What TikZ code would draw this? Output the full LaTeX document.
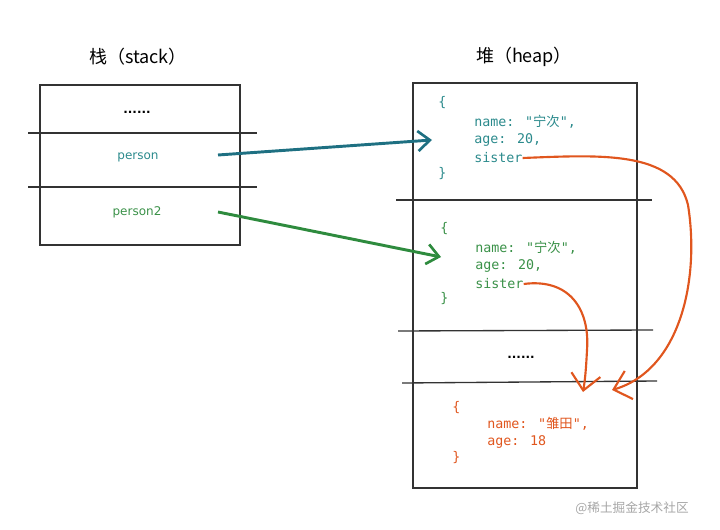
\documentclass[tikz,border=0pt]{standalone}
\usepackage{fontspec}
\setmainfont{DejaVu Sans}
\newfontfamily\cjk{Noto Sans CJK SC}
\newfontfamily\codefont{DejaVu Sans Mono}
\usetikzlibrary{arrows.meta}
\definecolor{tealc}{HTML}{1E7082}
\definecolor{tealt}{HTML}{2B8A8C}
\definecolor{greenc}{HTML}{2E8B3E}
\definecolor{greent}{HTML}{3A9148}
\definecolor{orangec}{HTML}{E0561E}
\definecolor{linec}{HTML}{333333}
\begin{document}
\begin{tikzpicture}[x=0.75pt,y=-0.75pt,
  boxline/.style={draw=linec,line width=1pt},
  code/.style={font=\codefont\fontsize{10}{12}\selectfont,anchor=west,inner sep=0pt},
  hand/.style={font=\fontsize{9}{11}\selectfont,inner sep=0pt},
  dots/.style={font=\bfseries\fontsize{9}{11}\selectfont,inner sep=0pt},
  title/.style={font=\cjk\fontsize{13.5}{15}\selectfont,inner sep=0pt},
  ptr/.style={line width=2.2pt,-{Straight Barb[length=9pt,width=15pt,line width=2pt]}},
  oarrow/.style={line width=1.6pt,draw=orangec,-{Straight Barb[length=12pt,width=22pt,line width=1.6pt]}}]
\useasboundingbox (0,0) rectangle (720,530);
% titles
\node[title] (tstack) at (138,57) {栈（stack）};
\node[title] (theap) at (524,57) {堆（heap）};
% stack box
\draw[boxline] (40,85) rectangle (240,245);
\draw[boxline] (28,133) -- (257,133);
\draw[boxline] (28,187) -- (257,187);
\node[dots] (sdots) at (137,112) {......};
\node[hand,text=tealt] (person) at (138,157) {person};
\node[hand,text=greent] (person2) at (137,212) {person2};
% heap box
\draw[boxline] (413,83) rectangle (637,488);
\draw[boxline] (396,200) -- (652,200);
\draw[boxline] (398,331) -- (653,330);
\draw[boxline] (402,383) -- (657,381);
% object 1
\node[code,text=tealt] (o1a) at (438,103) {\{};
\node[code,text=tealt] (o1b) at (474,122) {name: "{\cjk 宁次}",};
\node[code,text=tealt] (o1c) at (474,140) {age: 20,};
\node[code,text=tealt] (o1d) at (474,158) {sister};
\node[code,text=tealt] (o1e) at (438,174) {\}};
% object 2
\node[code,text=greent] (o2a) at (440,229) {\{};
\node[code,text=greent] (o2b) at (475,248) {name: "{\cjk 宁次}",};
\node[code,text=greent] (o2c) at (475,266) {age: 20,};
\node[code,text=greent] (o2d) at (475,284) {sister};
\node[code,text=greent] (o2e) at (440,299) {\}};
% dots
\node[dots] (hdots) at (521,357) {......};
% object 3
\node[code,text=orangec] (o3a) at (452,408) {\{};
\node[code,text=orangec] (o3b) at (487,424) {name: "{\cjk 雏田}",};
\node[code,text=orangec] (o3c) at (487,442) {age: 18};
\node[code,text=orangec] (o3e) at (452,458) {\}};
% watermark
\node[font=\cjk\fontsize{9.5}{11}\selectfont,text=gray!70,inner sep=0pt] (wm) at (632,508) {@稀土掘金技术社区};
% pointers
\coordinate (p1s) at (218,155);
\coordinate (p1e) at (432,140);
\coordinate (p2s) at (218,212);
\coordinate (p2e) at (441,257);
\draw[ptr,draw=tealc] (p1s) -- (p1e);
\draw[ptr,draw=greenc] (p2s) -- (p2e);
% orange curves
\coordinate (t1) at (612,390);
\coordinate (t2) at (583,392);
\draw[oarrow] (o1d.east) .. controls (600,155) and (675,150) .. (688,205)
   .. controls (700,280) and (680,370) .. (t1);
\draw[oarrow] (o2d.east) .. controls (570,278) and (590,310) .. (587,350)
   .. controls (586,370) and (585,380) .. (t2);
\end{tikzpicture}
\end{document}
